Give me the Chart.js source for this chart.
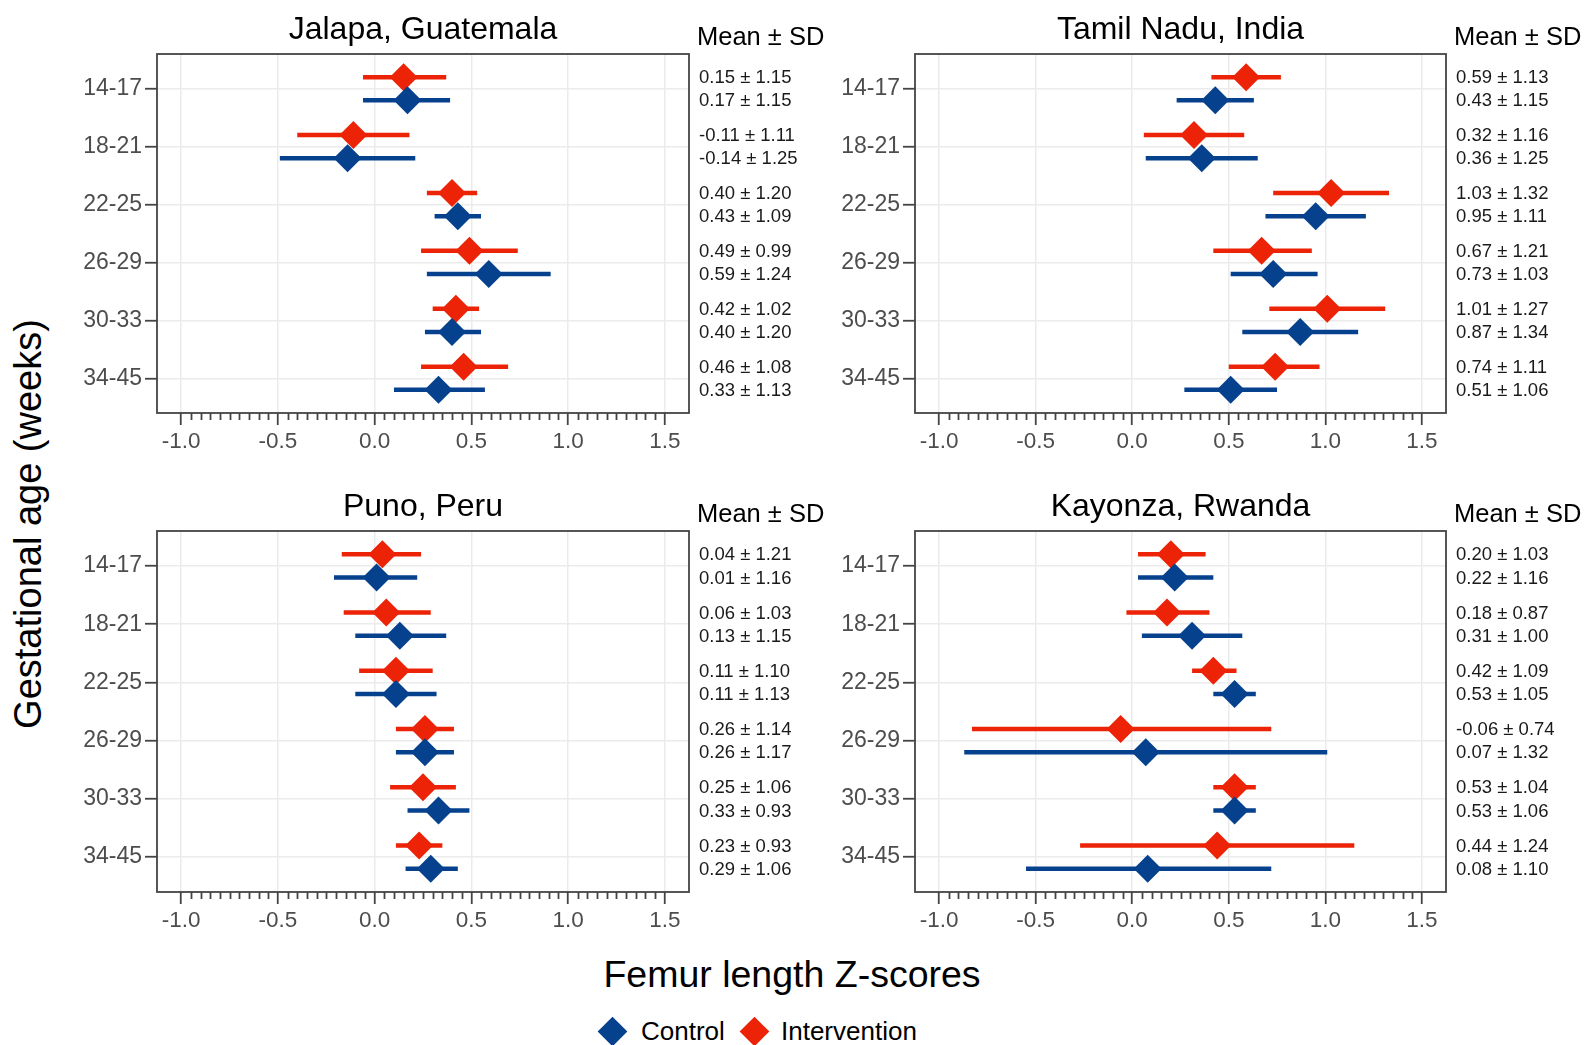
<!DOCTYPE html>
<html>
<head>
<meta charset="utf-8">
<title>Femur length Z-scores by site</title>
<script src="https://cdn.jsdelivr.net/npm/chart.js@4.4.0/dist/chart.umd.min.js"></script>
<style>
  body { margin: 0; background: #fff; width: 1585px; height: 1045px; position: relative; overflow: hidden;
         font-family: 'Liberation Sans', Arial, sans-serif; color: #000; }
  canvas { position: absolute; }
  .title { position: absolute; white-space: nowrap; font-size: 37.5px; }
  .ytitle { left: 28px; top: 524px; font-size: 38px; transform: translate(-50%, -50%) rotate(-90deg); }
  .xtitle { left: 792px; top: 974px; transform: translate(-50%, -50%); }
  .key { position: absolute; width: 21px; height: 21px; transform: rotate(45deg); }
  .keylabel { position: absolute; font-size: 26px; white-space: nowrap; transform: translateY(-50%); }
</style>
</head>
<body>
<canvas id="jalapa" width="782" height="470" style="left:57px;top:0px"></canvas>
<canvas id="tamil" width="770" height="470" style="left:815px;top:0px"></canvas>
<canvas id="puno" width="782" height="472" style="left:57px;top:477px"></canvas>
<canvas id="kayonza" width="770" height="472" style="left:815px;top:477px"></canvas>
<div class="title ytitle">Gestational age (weeks)</div>
<div class="title xtitle">Femur length Z-scores</div>
<div id="legend"></div>
<script>
'use strict';

// gestational age groups (weeks)
const categories = ['14-17', '18-21', '22-25', '26-29', '30-33', '34-45'];
const xTicks = [-1.0, -0.5, 0.0, 0.5, 1.0, 1.5];
const xTickLabels = ['-1.0', '-0.5', '0.0', '0.5', '1.0', '1.5'];

// Jalapa, Guatemala
const jalapaIntMean = [0.15, -0.11, 0.40, 0.49, 0.42, 0.46];
const jalapaIntSD = [1.15, 1.11, 1.20, 0.99, 1.02, 1.08];
const jalapaIntLo = [-0.06, -0.40, 0.27, 0.24, 0.30, 0.24];
const jalapaIntHi = [0.37, 0.18, 0.53, 0.74, 0.54, 0.69];
const jalapaCtrlMean = [0.17, -0.14, 0.43, 0.59, 0.40, 0.33];
const jalapaCtrlSD = [1.15, 1.25, 1.09, 1.24, 1.20, 1.13];
const jalapaCtrlLo = [-0.06, -0.49, 0.31, 0.27, 0.26, 0.10];
const jalapaCtrlHi = [0.39, 0.21, 0.55, 0.91, 0.55, 0.57];

// Tamil Nadu, India
const tamilIntMean = [0.59, 0.32, 1.03, 0.67, 1.01, 0.74];
const tamilIntSD = [1.13, 1.16, 1.32, 1.21, 1.27, 1.11];
const tamilIntLo = [0.41, 0.06, 0.73, 0.42, 0.71, 0.50];
const tamilIntHi = [0.77, 0.58, 1.33, 0.93, 1.31, 0.97];
const tamilCtrlMean = [0.43, 0.36, 0.95, 0.73, 0.87, 0.51];
const tamilCtrlSD = [1.15, 1.25, 1.11, 1.03, 1.34, 1.06];
const tamilCtrlLo = [0.23, 0.07, 0.69, 0.51, 0.57, 0.27];
const tamilCtrlHi = [0.63, 0.65, 1.21, 0.96, 1.17, 0.75];

// Puno, Peru
const punoIntMean = [0.04, 0.06, 0.11, 0.26, 0.25, 0.23];
const punoIntSD = [1.21, 1.03, 1.10, 1.14, 1.06, 0.93];
const punoIntLo = [-0.17, -0.16, -0.08, 0.11, 0.08, 0.11];
const punoIntHi = [0.24, 0.29, 0.30, 0.41, 0.42, 0.35];
const punoCtrlMean = [0.01, 0.13, 0.11, 0.26, 0.33, 0.29];
const punoCtrlSD = [1.16, 1.15, 1.13, 1.17, 0.93, 1.06];
const punoCtrlLo = [-0.21, -0.10, -0.10, 0.11, 0.17, 0.16];
const punoCtrlHi = [0.22, 0.37, 0.32, 0.41, 0.49, 0.43];

// Kayonza, Rwanda
const kayonzaIntMean = [0.20, 0.18, 0.42, -0.06, 0.53, 0.44];
const kayonzaIntSD = [1.03, 0.87, 1.09, 0.74, 1.04, 1.24];
const kayonzaIntLo = [0.03, -0.03, 0.31, -0.83, 0.42, -0.27];
const kayonzaIntHi = [0.38, 0.40, 0.54, 0.72, 0.64, 1.15];
const kayonzaCtrlMean = [0.22, 0.31, 0.53, 0.07, 0.53, 0.08];
const kayonzaCtrlSD = [1.16, 1.00, 1.05, 1.32, 1.06, 1.10];
const kayonzaCtrlLo = [0.03, 0.05, 0.42, -0.87, 0.42, -0.55];
const kayonzaCtrlHi = [0.42, 0.57, 0.64, 1.01, 0.64, 0.72];

const CTRL_COLOR = '#06418E';
const INT_COLOR = '#EC2306';
const AXIS_COLOR = '#444444';
const GRID_COLOR = '#EBEBEB';
const TICK_COLOR = '#4D4D4D';
const DODGE = 0.2;

Chart.defaults.font.family = "'Liberation Sans', Arial, sans-serif";

// diamonds at the group means
function meanPoints(means, off) {
  return means.map((m, i) => ({ x: m, y: i + 1 + off }));
}

// one horizontal interval per group, broken with null gaps
function intervals(lo, hi, off) {
  const pts = [];
  lo.forEach((l, i) => {
    pts.push({ x: l, y: i + 1 + off }, { x: hi[i], y: i + 1 + off }, { x: null, y: null });
  });
  return pts;
}

// panel box, minor ticks, title and the mean ± SD column
const panelText = {
  id: 'panelText',
  afterDraw(chart, args, opts) {
    const { ctx, chartArea: a, scales: { x, y } } = chart;
    ctx.save();
    ctx.strokeStyle = AXIS_COLOR;
    ctx.lineWidth = 1.8;
    for (let k = -20; k <= 30; k++) {
      if (k % 10 === 0) continue;
      const px = Math.round(x.getPixelForValue(k * 0.05)) + 0.5;
      ctx.beginPath();
      ctx.moveTo(px, a.bottom);
      ctx.lineTo(px, a.bottom + 7);
      ctx.stroke();
    }
    ctx.strokeRect(a.left, a.top, a.right - a.left, a.bottom - a.top);

    ctx.fillStyle = '#000';
    ctx.textBaseline = 'middle';
    ctx.textAlign = 'center';
    ctx.font = "32px 'Liberation Sans', Arial, sans-serif";
    ctx.fillText(opts.title, (a.left + a.right) / 2, a.top - 23.5);

    ctx.textAlign = 'left';
    ctx.font = "25.5px 'Liberation Sans', Arial, sans-serif";
    ctx.fillText('Mean \u00b1 SD', a.right + 8, a.top - 16.5);

    ctx.font = "18.5px 'Liberation Sans', Arial, sans-serif";
    ctx.fillStyle = '#1a1a1a';
    categories.forEach((c, i) => {
      ctx.fillText(opts.intMean[i].toFixed(2) + ' \u00b1 ' + opts.intSD[i].toFixed(2),
        a.right + 10, y.getPixelForValue(i + 1 - DODGE) + 1);
      ctx.fillText(opts.ctrlMean[i].toFixed(2) + ' \u00b1 ' + opts.ctrlSD[i].toFixed(2),
        a.right + 10, y.getPixelForValue(i + 1 + DODGE) + 1);
    });
    ctx.restore();
  }
};

function drawPanel(id, title, rightPad, d) {
  const canvas = document.getElementById(id);
  new Chart(canvas, {
    type: 'scatter',
    data: {
      datasets: [
        { label: 'Control', data: meanPoints(d.ctrlMean, DODGE), order: 0,
          pointStyle: 'rectRot', pointRadius: 14, backgroundColor: CTRL_COLOR, borderWidth: 0 },
        { label: 'Intervention', data: meanPoints(d.intMean, -DODGE), order: 1,
          pointStyle: 'rectRot', pointRadius: 14, backgroundColor: INT_COLOR, borderWidth: 0 },
        { label: 'Control CI', data: intervals(d.ctrlLo, d.ctrlHi, DODGE), order: 2,
          showLine: true, spanGaps: false, pointRadius: 0, borderColor: CTRL_COLOR, borderWidth: 4.5,
          borderCapStyle: 'butt' },
        { label: 'Intervention CI', data: intervals(d.intLo, d.intHi, -DODGE), order: 3,
          showLine: true, spanGaps: false, pointRadius: 0, borderColor: INT_COLOR, borderWidth: 4.5,
          borderCapStyle: 'butt' }
      ]
    },
    options: {
      responsive: false,
      animation: false,
      events: [],
      layout: { padding: { top: 54, right: rightPad, bottom: 0, left: 0 } },
      scales: {
        x: {
          type: 'linear', min: -1.125, max: 1.625,
          afterBuildTicks: s => { s.ticks = xTicks.map(v => ({ value: v })); },
          afterFit: s => { s.height = 57; },
          ticks: { callback: (v, i) => xTickLabels[i], color: TICK_COLOR, font: { size: 22.5 },
                   padding: 3, maxRotation: 0, autoSkip: false },
          grid: { color: GRID_COLOR, lineWidth: 1.5, tickColor: AXIS_COLOR, tickLength: 12, tickWidth: 1.8 },
          border: { display: false }
        },
        y: {
          type: 'linear', reverse: true, min: 0.4, max: 6.6,
          afterBuildTicks: s => { s.ticks = categories.map((c, i) => ({ value: i + 1 })); },
          afterFit: s => { s.width = 100; },
          ticks: { callback: (v, i) => categories[i], color: TICK_COLOR, font: { size: 23 },
                   padding: 3, autoSkip: false },
          grid: { color: GRID_COLOR, lineWidth: 1.5, tickColor: AXIS_COLOR, tickLength: 12, tickWidth: 1.8 },
          border: { display: false }
        }
      },
      plugins: {
        legend: { display: false },
        tooltip: { enabled: false },
        panelText: Object.assign({ title: title }, d)
      }
    },
    plugins: [panelText]
  });
}

drawPanel('jalapa', 'Jalapa, Guatemala', 150, {
  intMean: jalapaIntMean, intSD: jalapaIntSD, intLo: jalapaIntLo, intHi: jalapaIntHi,
  ctrlMean: jalapaCtrlMean, ctrlSD: jalapaCtrlSD, ctrlLo: jalapaCtrlLo, ctrlHi: jalapaCtrlHi
});
drawPanel('tamil', 'Tamil Nadu, India', 139, {
  intMean: tamilIntMean, intSD: tamilIntSD, intLo: tamilIntLo, intHi: tamilIntHi,
  ctrlMean: tamilCtrlMean, ctrlSD: tamilCtrlSD, ctrlLo: tamilCtrlLo, ctrlHi: tamilCtrlHi
});
drawPanel('puno', 'Puno, Peru', 150, {
  intMean: punoIntMean, intSD: punoIntSD, intLo: punoIntLo, intHi: punoIntHi,
  ctrlMean: punoCtrlMean, ctrlSD: punoCtrlSD, ctrlLo: punoCtrlLo, ctrlHi: punoCtrlHi
});
drawPanel('kayonza', 'Kayonza, Rwanda', 139, {
  intMean: kayonzaIntMean, intSD: kayonzaIntSD, intLo: kayonzaIntLo, intHi: kayonzaIntHi,
  ctrlMean: kayonzaCtrlMean, ctrlSD: kayonzaCtrlSD, ctrlLo: kayonzaCtrlLo, ctrlHi: kayonzaCtrlHi
});

// shared legend under the panels
const legendItems = [
  { label: 'Control', color: CTRL_COLOR, cx: 612, text: 641 },
  { label: 'Intervention', color: INT_COLOR, cx: 754, text: 781 }
];
const legend = document.getElementById('legend');
legendItems.forEach(item => {
  const key = document.createElement('div');
  key.className = 'key';
  key.style.background = item.color;
  key.style.left = (item.cx - 10.5) + 'px';
  key.style.top = (1031 - 10.5) + 'px';
  legend.appendChild(key);
  const lab = document.createElement('div');
  lab.className = 'keylabel';
  lab.textContent = item.label;
  lab.style.left = item.text + 'px';
  lab.style.top = '1031px';
  legend.appendChild(lab);
});
</script>
</body>
</html>
